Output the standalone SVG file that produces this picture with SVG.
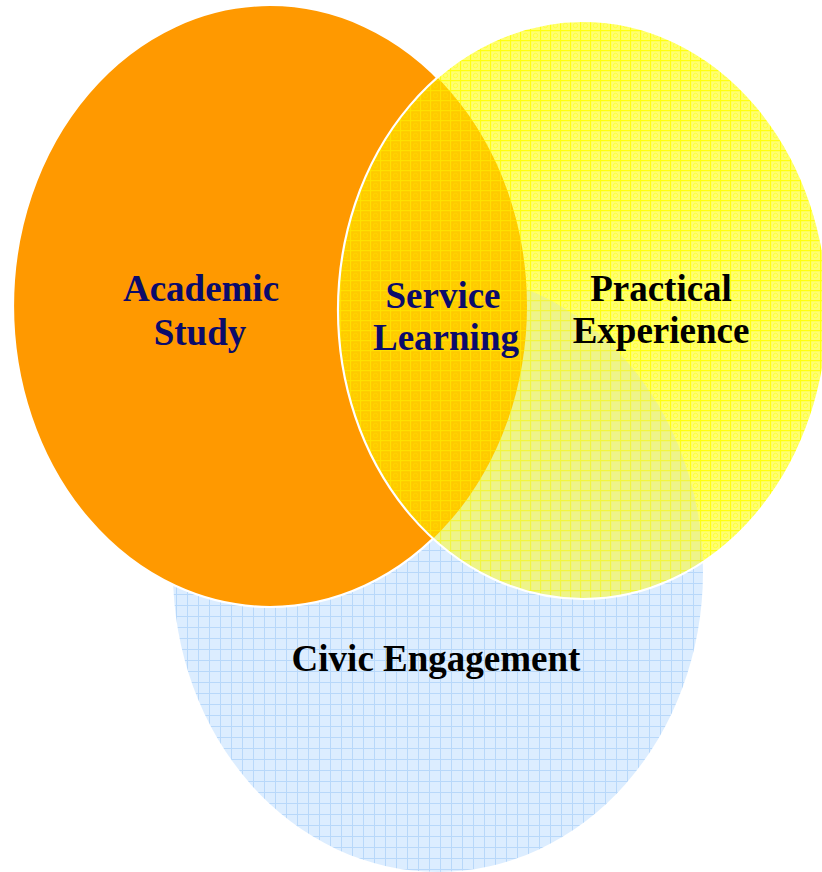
<svg xmlns="http://www.w3.org/2000/svg" width="822" height="872" viewBox="0 0 822 872">
<defs>
<style>
.lbl{font-family:"Liberation Serif","Times New Roman",serif;font-weight:bold;font-size:37px;text-anchor:middle}
.navy{fill:#0b0b6b}
.blk{fill:#000}
.edge{fill:none;stroke:#fff;stroke-width:2.2}
</style>
<pattern id="pBlue" width="11" height="11" patternUnits="userSpaceOnUse">
<rect width="11" height="11" fill="#DCEDFF"/>
<path d="M0 0.5H11M0.5 0V11" stroke="#B8D8FA" stroke-width="1"/>
</pattern>
<pattern id="pYel" width="10" height="10" patternUnits="userSpaceOnUse">
<rect width="10" height="10" fill="#FFFF72"/>
<path d="M0 0.5H10M0.5 0V10" stroke="#FFFF10" stroke-width="1.3"/>
<circle cx="5.5" cy="5.5" r="2.2" fill="none" stroke="#FFFF30" stroke-width="0.8"/>
</pattern>
<pattern id="pGold" width="10" height="10" patternUnits="userSpaceOnUse">
<rect width="10" height="10" fill="#FFCA00"/>
<path d="M0 0.5H10M0.5 0V10" stroke="#FFE000" stroke-width="1.3"/>
<circle cx="5.5" cy="5.5" r="2.2" fill="none" stroke="#FFD800" stroke-width="0.8"/>
</pattern>
<pattern id="pGreen" width="10" height="10" patternUnits="userSpaceOnUse">
<rect width="10" height="10" fill="#EEF48A"/>
<path d="M0 0.5H10M0.5 0V10" stroke="#F2F640" stroke-width="1.3"/>
</pattern>
<clipPath id="clipYel"><ellipse cx="583" cy="310" rx="245" ry="289"/></clipPath>
</defs>
<rect width="822" height="872" fill="#fff"/>
<g id="civic-engagement">
<ellipse cx="438" cy="572" rx="265" ry="300" fill="url(#pBlue)"/>
</g>
<g id="academic-study">
<ellipse cx="270" cy="306" rx="257" ry="301" fill="#FF9900" stroke="#fff" stroke-width="2.2"/>
</g>
<g id="practical-experience">
<ellipse cx="583" cy="310" rx="245" ry="289" fill="url(#pYel)"/>
<g clip-path="url(#clipYel)">
<ellipse cx="438" cy="572" rx="265" ry="300" fill="url(#pGreen)"/>
</g>
</g>
<g id="service-learning">
<g clip-path="url(#clipYel)">
<ellipse cx="270" cy="306" rx="257" ry="301" fill="url(#pGold)"/>
</g>
<ellipse class="edge" cx="583" cy="310" rx="245" ry="289"/>
</g>
<g id="labels">
<text class="lbl navy" x="201" y="301">Academic</text>
<text class="lbl navy" x="200" y="345">Study</text>
<text class="lbl navy" x="443" y="308">Service</text>
<text class="lbl navy" x="446" y="350">Learning</text>
<text class="lbl blk" x="661" y="301">Practical</text>
<text class="lbl blk" x="661" y="343">Experience</text>
<text class="lbl blk" x="436" y="671">Civic Engagement</text>
</g>
</svg>
